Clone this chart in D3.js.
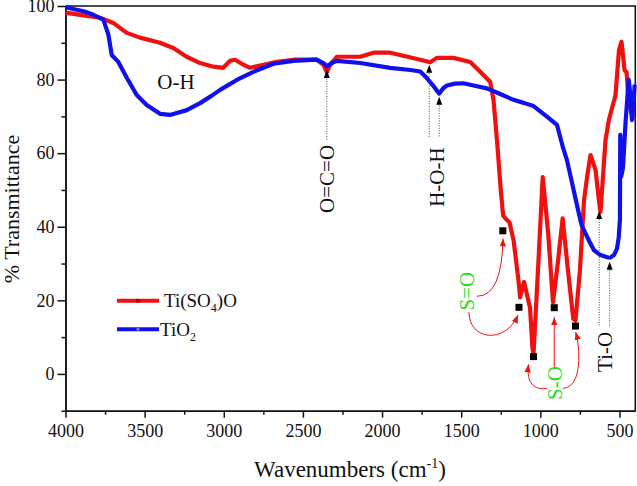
<!DOCTYPE html>
<html>
<head>
<meta charset="utf-8">
<script src="https://cdn.jsdelivr.net/npm/d3@7"></script>
<style>
  body { margin: 0; background: #fff; }
  svg { display: block; font-family: "Liberation Serif", "Times New Roman", serif; }
</style>
</head>
<body>
<svg id="chart" width="637" height="486"></svg>
<script>
// values: wavenumber (cm-1) / % transmittance
var tioWave = [4000, 3950, 3880, 3824, 3761, 3729, 3708, 3666, 3613, 3550, 3487, 3403, 3340, 3234, 3150, 3080, 3023, 2918, 2813, 2686, 2560, 2412, 2370, 2349, 2317, 2286, 2138, 1949, 1820, 1759, 1717, 1680, 1640, 1610, 1590, 1540, 1486, 1400, 1338, 1250, 1170, 1100, 1043, 960, 895, 860, 832, 800, 769, 740, 714, 690, 661, 620, 577, 558, 535, 516, 505, 497, 495, 489, 478, 462, 442, 432, 421, 412, 404];
var tioTrans = [99.7, 99.2, 98.5, 97.6, 96.3, 92.2, 86.7, 84.8, 80.5, 75.8, 73.1, 70.7, 70.4, 71.7, 73.6, 75.5, 77.2, 79.9, 82.1, 84.3, 85.1, 85.4, 84.5, 83.6, 84.5, 85.1, 84.5, 83.2, 82.6, 82.2, 80.4, 78.5, 76.2, 77.8, 78.4, 78.9, 79.0, 78.2, 77.6, 76.0, 74.5, 73.6, 72.8, 70.0, 67.7, 62.0, 58.1, 52.0, 46.0, 40.5, 38.1, 36.0, 33.6, 32.3, 31.7, 31.6, 32.3, 34.0, 37.0, 42.0, 65.0, 53.6, 56.0, 68.0, 80.0, 76.0, 69.0, 73.0, 78.6];

var tsoWave = [4000, 3908, 3782, 3698, 3613, 3529, 3403, 3319, 3234, 3150, 3066, 3003, 2960, 2929, 2886, 2834, 2771, 2665, 2560, 2412, 2370, 2349, 2328, 2286, 2138, 2054, 1949, 1886, 1759, 1696, 1654, 1549, 1443, 1380, 1317, 1296, 1274, 1250, 1235, 1215, 1195, 1169, 1138, 1128, 1103, 1065, 1050, 1043, 1015, 985, 950, 920, 890, 859, 830, 792, 778, 750, 724, 703, 683, 651, 630, 620, 588, 567, 525, 503, 487, 468, 455, 440, 430, 408];
var tsoTrans = [98.2, 97.6, 96.8, 95.4, 92.7, 91.4, 90.0, 88.6, 86.2, 84.5, 83.5, 83.2, 85.1, 85.4, 84.3, 83.2, 83.8, 84.8, 85.4, 85.4, 84.0, 82.0, 84.0, 86.2, 86.2, 87.3, 87.3, 86.7, 85.4, 84.7, 85.9, 85.9, 84.8, 82.1, 79.4, 74.5, 63.6, 50.0, 43.0, 42.0, 41.2, 36.3, 25.4, 20.8, 25.0, 18.0, 7.0, 5.5, 28.0, 53.5, 38.0, 19.5, 30.0, 42.3, 30.0, 15.0, 14.5, 28.0, 47.2, 54.0, 59.5, 55.4, 47.2, 44.0, 63.6, 69.0, 75.8, 88.0, 90.3, 82.6, 82.0, 73.0, 71.7, 69.0];

var markWave = [1237, 1135, 1043, 912, 778];
var markTrans = [38.9, 18.1, 4.7, 18, 13];

var xTicks = [4000, 3500, 3000, 2500, 2000, 1500, 1000, 500];
var xMinor = [3750, 3250, 2750, 2250, 1750, 1250, 750];
var yTicks = [0, 20, 40, 60, 80, 100];
var yMinor = [-10, 10, 30, 50, 70, 90];

var svg = d3.select('#chart');
var padL = 65.5, padR = 635.3, padT = 6, padB = 410.7;

var x = d3.scaleLinear().domain([4000, 400]).range([padL, padR]);
var y = d3.scaleLinear().domain([-10, 100]).range([padB, padT]);

var red = '#f01010', blue = '#1010ee', green = '#22dd22';

// frame (top, right)
svg.append('path')
  .attr('d', 'M' + padL + ',' + padT + 'H' + padR + 'V' + padB)
  .attr('fill', 'none').attr('stroke', '#111').attr('stroke-width', 1.5);

// axes
function styleAxis(g) {
  g.attr('font-family', '"Liberation Serif", serif');
  g.select('.domain').attr('stroke', '#111').attr('stroke-width', 1.5);
  g.selectAll('.tick line').attr('stroke', '#111').attr('stroke-width', 1.5);
  g.selectAll('.tick text').attr('font-size', '18px').attr('fill', '#111');
}
var fmt = d3.format('d');
svg.append('g').attr('transform', 'translate(' + padL + ',0)')
  .call(d3.axisLeft(y).tickValues(yMinor).tickSize(4).tickSizeOuter(0).tickFormat(''))
  .call(styleAxis);
svg.append('g').attr('transform', 'translate(' + padL + ',0)')
  .call(d3.axisLeft(y).tickValues(yTicks).tickSize(8).tickPadding(3).tickSizeOuter(0).tickFormat(fmt))
  .call(styleAxis);
svg.append('g').attr('transform', 'translate(0,' + padB + ')')
  .call(d3.axisBottom(x).tickValues(xMinor).tickSize(4).tickSizeOuter(0).tickFormat(''))
  .call(styleAxis);
svg.append('g').attr('transform', 'translate(0,' + padB + ')')
  .call(d3.axisBottom(x).tickValues(xTicks).tickSize(7).tickPadding(7).tickSizeOuter(0).tickFormat(fmt))
  .call(styleAxis);

// axis titles
svg.append('text')
  .attr('transform', 'translate(19,209) rotate(-90)')
  .attr('text-anchor', 'middle').attr('font-size', '22px').attr('fill', '#111')
  .text('% Transmittance');
var xt = svg.append('text')
  .attr('x', 350).attr('y', 477)
  .attr('text-anchor', 'middle').attr('font-size', '23px').attr('fill', '#111');
xt.append('tspan').text('Wavenumbers (cm');
xt.append('tspan').attr('dy', -9).attr('font-size', '14px').text('-1');
xt.append('tspan').attr('dy', 9).text(')');

// curves
var line = d3.line()
  .x(function (d) { return x(d[0]); })
  .y(function (d) { return y(d[1]); });

var tso = d3.zip(tsoWave, tsoTrans);
var tio = d3.zip(tioWave, tioTrans);

svg.append('path').datum(tso).attr('d', line)
  .attr('fill', 'none').attr('stroke', red).attr('stroke-width', 4.2)
  .attr('stroke-linejoin', 'round');
svg.append('path').datum(tio).attr('d', line)
  .attr('fill', 'none').attr('stroke', blue).attr('stroke-width', 4.2)
  .attr('stroke-linejoin', 'round');

// black square markers on the sulfate bands
svg.selectAll('rect.mark')
  .data(d3.zip(markWave, markTrans))
  .enter()
  .append('rect')
  .attr('class', 'mark')
  .attr('x', function (d) { return x(d[0]) - 3.5; })
  .attr('y', function (d) { return y(d[1]) - 3.5; })
  .attr('width', 7).attr('height', 7)
  .attr('fill', '#000');

// dotted pointer lines with black arrow heads
var pointers = [
  [2349, 82.6, 63.6], [1702, 84, 64.4], [1639, 75.3, 64.4],
  [628, 44.3, 12.75], [562, 30.5, 12.75]
];
pointers.forEach(function (p) {
  var px = x(p[0]), ty = y(p[1]);
  svg.append('line')
    .attr('x1', px).attr('x2', px).attr('y1', ty + 6).attr('y2', y(p[2]))
    .attr('stroke', '#444').attr('stroke-width', 1).attr('stroke-dasharray', '1,1.5');
  svg.append('path')
    .attr('d', 'M' + px + ',' + ty + 'L' + (px - 3) + ',' + (ty + 8) + 'L' + (px + 3) + ',' + (ty + 8) + 'Z')
    .attr('fill', '#000');
});

// red curved arrows from S=O / S-O labels
svg.append('defs').append('marker')
  .attr('id', 'rhead').attr('markerUnits', 'userSpaceOnUse')
  .attr('viewBox', '0 0 10 10').attr('refX', 10).attr('refY', 5)
  .attr('markerWidth', 8).attr('markerHeight', 8).attr('orient', 'auto')
  .append('path').attr('d', 'M0,1L10,5L0,9Z').attr('fill', red);

function P(v, t) { return x(v) + ',' + y(t); }
var curves = [
  'M' + P(1400, 21.1) + 'Q' + P(1242, 21.1) + ' ' + P(1236, 36.8),
  'M' + P(1451, 16.8) + 'C' + P(1451, 9.2) + ' ' + P(1224, 7.9) + ' ' + P(1141, 16.0),
  'M' + P(958, -3.9) + 'C' + P(1066, -4.6) + ' ' + P(1085, -1.1) + ' ' + P(1075, 2.6),
  'M' + P(912, 1.3) + 'L' + P(912, 15.4),
  'M' + P(857, -3.9) + 'C' + P(730, -3.6) + ' ' + P(750, 7.3) + ' ' + P(777, 11.4)
];
curves.forEach(function (d) {
  svg.append('path').attr('d', d)
    .attr('fill', 'none').attr('stroke', red).attr('stroke-width', 1)
    .attr('marker-end', 'url(#rhead)');
});

// band labels
var notes = [
  ['O-H', 3302, 79.3, 0, '#111'],
  ['O=C=O', 2349, 53, -90, '#111'],
  ['H-O-H', 1655, 53.5, -90, '#111'],
  ['Ti-O', 592, 6, -90, '#111'],
  ['S=O', 1464, 22.5, -90, green],
  ['S-O', 907, -2.5, -90, green]
];
notes.forEach(function (n) {
  svg.append('text')
    .attr('transform', 'translate(' + x(n[1]) + ',' + y(n[2]) + ') rotate(' + n[3] + ')')
    .attr('text-anchor', 'middle').attr('dominant-baseline', 'central')
    .attr('font-size', '21px').attr('fill', n[4])
    .text(n[0]);
});

// legend
var lg = svg.append('g');
lg.append('line').attr('x1', 117).attr('x2', 159).attr('y1', 300.7).attr('y2', 300.7)
  .attr('stroke', red).attr('stroke-width', 4);
lg.append('rect').attr('x', 136).attr('y', 299).attr('width', 3.5).attr('height', 3.5).attr('fill', '#900');
var t1 = lg.append('text').attr('x', 164).attr('y', 307).attr('font-size', '19px').attr('fill', '#111');
t1.append('tspan').text('Ti(SO');
t1.append('tspan').attr('dy', 5).attr('font-size', '12px').text('4');
t1.append('tspan').attr('dy', -5).text(')O');
lg.append('line').attr('x1', 117).attr('x2', 159).attr('y1', 329.3).attr('y2', 329.3)
  .attr('stroke', blue).attr('stroke-width', 4);
lg.append('circle').attr('cx', 138).attr('cy', 329.3).attr('r', 1.6).attr('fill', '#77f');
var t2 = lg.append('text').attr('x', 160).attr('y', 336).attr('font-size', '19px').attr('fill', '#111');
t2.append('tspan').text('TiO');
t2.append('tspan').attr('dy', 5).attr('font-size', '12px').text('2');
</script>
</body>
</html>
